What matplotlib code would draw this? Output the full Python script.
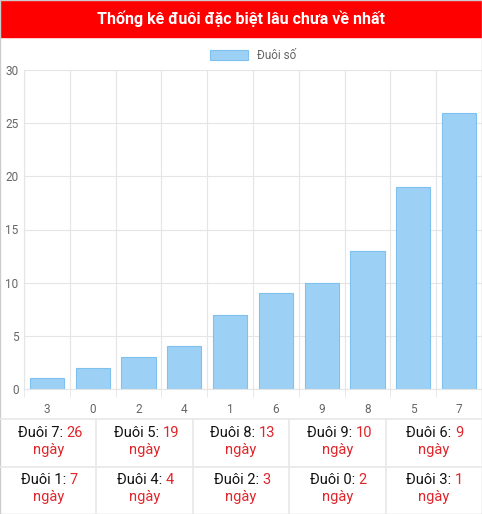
import matplotlib
matplotlib.use("Agg")
import matplotlib.pyplot as plt
from matplotlib.patches import Rectangle

plt.rcParams["font.family"] = ["Roboto", "DejaVu Sans"]

categories = ["3", "0", "2", "4", "1", "6", "9", "8", "5", "7"]
values = [1, 2, 3, 4, 7, 9, 10, 13, 19, 26]
table_digits = ["7", "5", "8", "9", "6", "1", "4", "2", "0", "3"]
table_days = [26, 19, 13, 10, 9, 7, 4, 3, 2, 1]

W, H = 482, 514
fig = plt.figure(figsize=(W / 100, H / 100), dpi=100)

def fx(px):
    return px / W

def fy(py):
    return 1 - py / H

# title bar
fig.patches.append(Rectangle((0, fy(37)), 1, 37 / H, transform=fig.transFigure,
                             color="#ff0000", zorder=0))
fig.text(0.5, fy(18.5), "Thống kê đuôi đặc biệt lâu chưa về nhất", color="white",
         fontsize=11.5, fontweight="bold", ha="center", va="center")

# chart
ax = fig.add_axes([fx(24), fy(389), fx(482 - 24), (389 - 70) / H])
x = range(len(categories))
ax.bar(x, values, width=0.75, color="#9dd0f5", edgecolor="#7ec0ee", linewidth=0.8,
       label="Đuôi số", zorder=2)
ax.set_xlim(-0.5, len(categories) - 0.5)
ax.set_ylim(0, 30)
ax.set_yticks(range(0, 31, 5))
ax.set_xticks(list(x))
ax.set_xticklabels(categories)
ax.tick_params(colors="#666666", labelsize=8.5, length=0, pad=10)
ax.tick_params(axis="y", pad=4)
ax.set_xticks([i + 0.5 for i in range(-1, len(categories))], minor=True)
ax.grid(True, which="minor", axis="x", color="#e5e5e5", linewidth=0.8)
ax.grid(True, which="major", axis="y", color="#e5e5e5", linewidth=0.8)
ax.tick_params(axis="x", which="minor", length=6, color="#e5e5e5")
for s in ax.spines.values():
    s.set_color("#e5e5e5")
ax.spines["top"].set_visible(False)
ax.spines["right"].set_visible(False)
ax.legend(loc="lower center", bbox_to_anchor=(0.5, 1.0), frameon=False, fontsize=8.5,
          labelcolor="#666666", handlelength=3.2, handleheight=0.9, borderaxespad=0.3)

# table
top, rowh, colw = 419, 47.5, W / 5
for i, (d, n) in enumerate(zip(table_digits, table_days)):
    r, c = divmod(i, 5)
    cx = (c + 0.5) * colw
    y1 = top + r * rowh + 14
    lbl = f"Đuôi {d}: "
    t = fig.text(fx(cx - 8), fy(y1), lbl, fontsize=10.5, color="#111111",
                 ha="center", va="center")
    fig.canvas.draw()
    bb = t.get_window_extent()
    tot = bb.width + len(str(n)) * 6.2
    t.set_x(fx(cx - tot / 2))
    t.set_ha("left")
    fig.text(fx(cx - tot / 2 + bb.width), fy(y1), str(n), fontsize=10.5,
             color="#e0262b", ha="left", va="center")
    fig.text(fx(cx), fy(y1 + 17), "ngày", fontsize=10.5, color="#e0262b",
             ha="center", va="center")
for c in range(1, 5):
    fig.add_artist(plt.Line2D([fx(c * colw)] * 2, [fy(top), 0], color="#e8e8e8",
                              linewidth=1.2, transform=fig.transFigure))
for yy in (top, top + rowh):
    fig.add_artist(plt.Line2D([0, 1], [fy(yy)] * 2, color="#e8e8e8",
                              linewidth=1.2, transform=fig.transFigure))
fig.add_artist(Rectangle((0, 0), 1, 1, fill=False, edgecolor="#cccccc",
                         linewidth=1, transform=fig.transFigure))

fig.savefig("out.png", dpi=100)
